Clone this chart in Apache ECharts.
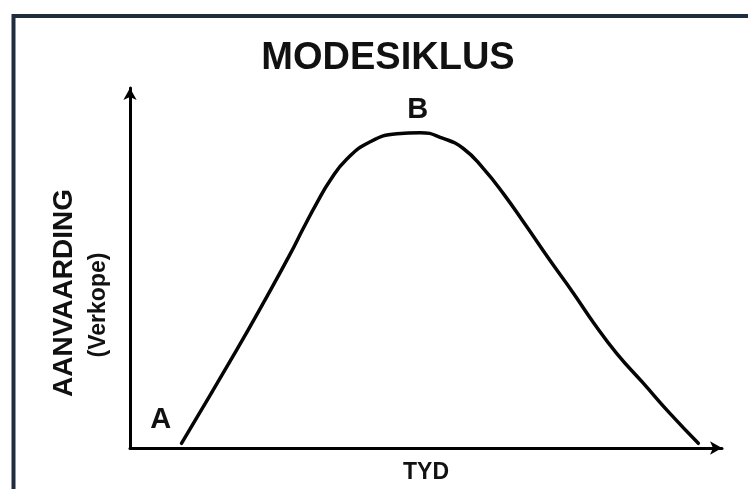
<!DOCTYPE html>
<html>
<head>
<meta charset="utf-8">
<script src="https://cdn.jsdelivr.net/npm/echarts@6/dist/echarts.min.js"></script>
<style>
html,body{margin:0;padding:0;background:#fff;}
#c{width:748px;height:489px;}
</style>
</head>
<body>
<div id="c"></div>
<script>
// Time (0-100) along the x-axis
var timeValues = [8.7, 18.0, 23.1, 27.0, 29.3, 31.5, 33.8, 36.6, 40.5, 45.1, 49.0, 52.9, 56.3, 59.7, 63.1, 67.0, 70.9, 74.9, 78.3, 82.2, 86.7, 91.2, 96.0];
// Acceptance (sales) level 0-100
var acceptanceValues = [1.3, 27.2, 42.0, 53.7, 61.1, 67.9, 74.3, 80.2, 85.0, 87.3, 87.6, 86.0, 83.2, 77.6, 70.6, 61.5, 52.2, 43.0, 34.8, 26.3, 18.0, 9.6, 1.3];
var titleText = 'MODESIKLUS';
var xName = 'TYD';
var yName1 = 'AANVAARDING';
var yName2 = '(Verkope)';
var pointLabels = [{name: 'A', x: 5.2, y: 7.8}, {name: 'B', x: 48.6, y: 94.0}];

var curve = timeValues.map(function (t, i) { return [t, acceptanceValues[i]]; });
var font = '"Liberation Sans", Arial, sans-serif';

var chart = echarts.init(document.getElementById('c'), null, {renderer: 'canvas'});
chart.setOption({
  backgroundColor: '#ffffff',
  animation: false,
  title: {
    text: titleText,
    left: 383, top: 35, textAlign: 'center',
    textStyle: {fontFamily: font, fontWeight: 'bold', fontSize: 38, color: '#111'}
  },
  grid: {left: 130, right: 26, top: 88, bottom: 41, outerBoundsMode: 'none', containLabel: false},
  xAxis: {
    type: 'value', min: 0, max: 100,
    axisLine: {show: true, symbol: ['none', 'arrow'], symbolSize: [10, 12], lineStyle: {color: '#000', width: 3}},
    axisTick: {show: false}, axisLabel: {show: false}, splitLine: {show: false},
    name: xName, nameLocation: 'middle', nameGap: 13,
    nameTextStyle: {fontFamily: font, fontWeight: 'bold', fontSize: 23, color: '#111', verticalAlign: 'top'}
  },
  yAxis: {
    type: 'value', min: 0, max: 100,
    axisLine: {show: true, symbol: ['none', 'arrow'], symbolSize: [10, 12], lineStyle: {color: '#000', width: 3}},
    axisTick: {show: false}, axisLabel: {show: false}, splitLine: {show: false}
  },
  graphic: [
    {type: 'rect', left: 11, top: 13.5, shape: {width: 760, height: 500},
     style: {fill: 'none', stroke: '#1f2d3f', lineWidth: 4}, z: 100},
    {type: 'text', x: 64, y: 293, rotation: Math.PI / 2,
     style: {text: yName1, font: 'bold 28px ' + font, fill: '#111', textAlign: 'center', textVerticalAlign: 'middle'}},
    {type: 'text', x: 99, y: 305, rotation: Math.PI / 2,
     style: {text: yName2, font: 'bold 23px ' + font, fill: '#111', textAlign: 'center', textVerticalAlign: 'middle'}}
  ],
  series: [{
    type: 'line',
    data: curve,
    smooth: 0.5,
    showSymbol: false,
    symbol: 'none',
    lineStyle: {color: '#050505', width: 3.5, cap: 'round', join: 'round'},
    markPoint: {
      symbol: 'circle', symbolSize: 0,
      label: {show: true, formatter: '{b}', fontFamily: font, fontWeight: 'bold', fontSize: 29, color: '#111'},
      data: pointLabels.map(function (p) { return {name: p.name, coord: [p.x, p.y]}; })
    }
  }]
});
</script>
</body>
</html>
